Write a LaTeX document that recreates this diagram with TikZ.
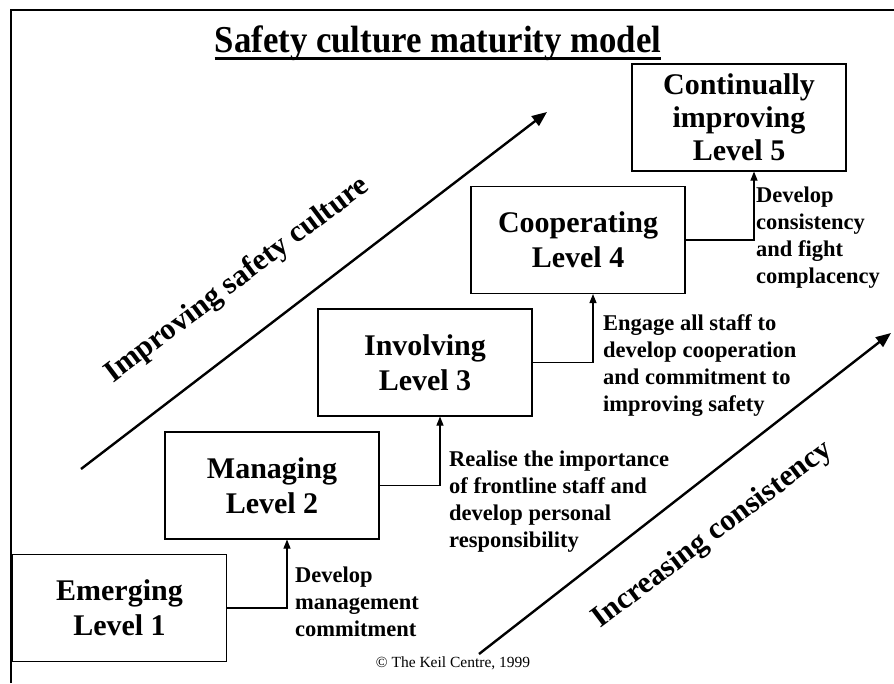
\documentclass[tikz,border=0pt]{standalone}
\usepackage{fontspec}
\setmainfont{Liberation Serif}
\usetikzlibrary{arrows.meta}

\begin{document}
\begin{tikzpicture}[x=1pt,y=-1pt,
  level/.style={draw,line width=1.1pt,minimum width=214pt,minimum height=107pt,inner sep=0pt,align=center,font=\bfseries\fontsize{30}{35}\selectfont},
  lab/.style={anchor=north west,inner sep=0pt,align=left,font=\bfseries\fontsize{22.5}{27}\selectfont},
  trend/.style={line width=2.4pt,-{Triangle[length=15pt,width=12pt]}},
  trendtext/.style={rotate=37,anchor=base,inner sep=0pt,font=\bfseries\fontsize{30.5}{32}\selectfont},
  up/.style={line width=1.1pt,-{Triangle[length=9pt,width=7pt]}}]
\useasboundingbox (0,0) rectangle (894,683);
\draw[line width=2.5pt] (11,683) -- (11,10) -- (894,10);

\node[anchor=base,inner sep=0pt,xscale=0.915,font=\bfseries\fontsize{38}{40}\selectfont] (title) at (438,52) {Safety culture maturity model};
\draw[line width=3pt] ([yshift=-6pt]title.base west) -- ([yshift=-6pt]title.base east);

\node[level] (lv1) at (119.5,608) {Emerging\\Level 1};
\node[level] (lv2) at (272,485.5) {Managing\\Level 2};
\node[level] (lv3) at (425,362.5) {Involving\\Level 3};
\node[level] (lv4) at (578,240) {Cooperating\\Level 4};
\node[level,font=\bfseries\fontsize{30}{33}\selectfont] (lv5) at (739,117.5) {Continually\\improving\\Level 5};

\foreach \a/\b in {lv1/lv2,lv2/lv3,lv3/lv4,lv4/lv5}
  \draw[up] (\a.east) -| ([xshift=15pt]\b.south);

\node[lab] (dev1) at (295,567) {Develop\\management\\commitment};
\node[lab] (dev2) at (449,451) {Realise the importance\\of frontline staff and\\develop personal\\responsibility};
\node[lab] (dev3) at (603,314) {Engage all staff to\\develop cooperation\\and commitment to\\improving safety};
\node[lab] (dev4) at (756,187) {Develop\\consistency\\and fight\\complacency};

\draw[trend] (81,469) -- (547,112);
\draw[trend] (479,654) -- (891,333);
\node[trendtext] (culture) at (242,286) {Improving safety culture};
\node[trendtext] (consist) at (717,541) {Increasing consistency};

\node[font=\fontsize{15.5}{18}\selectfont] (keil) at (453,663) {\textcopyright{} The Keil Centre, 1999};
\end{tikzpicture}
\end{document}
